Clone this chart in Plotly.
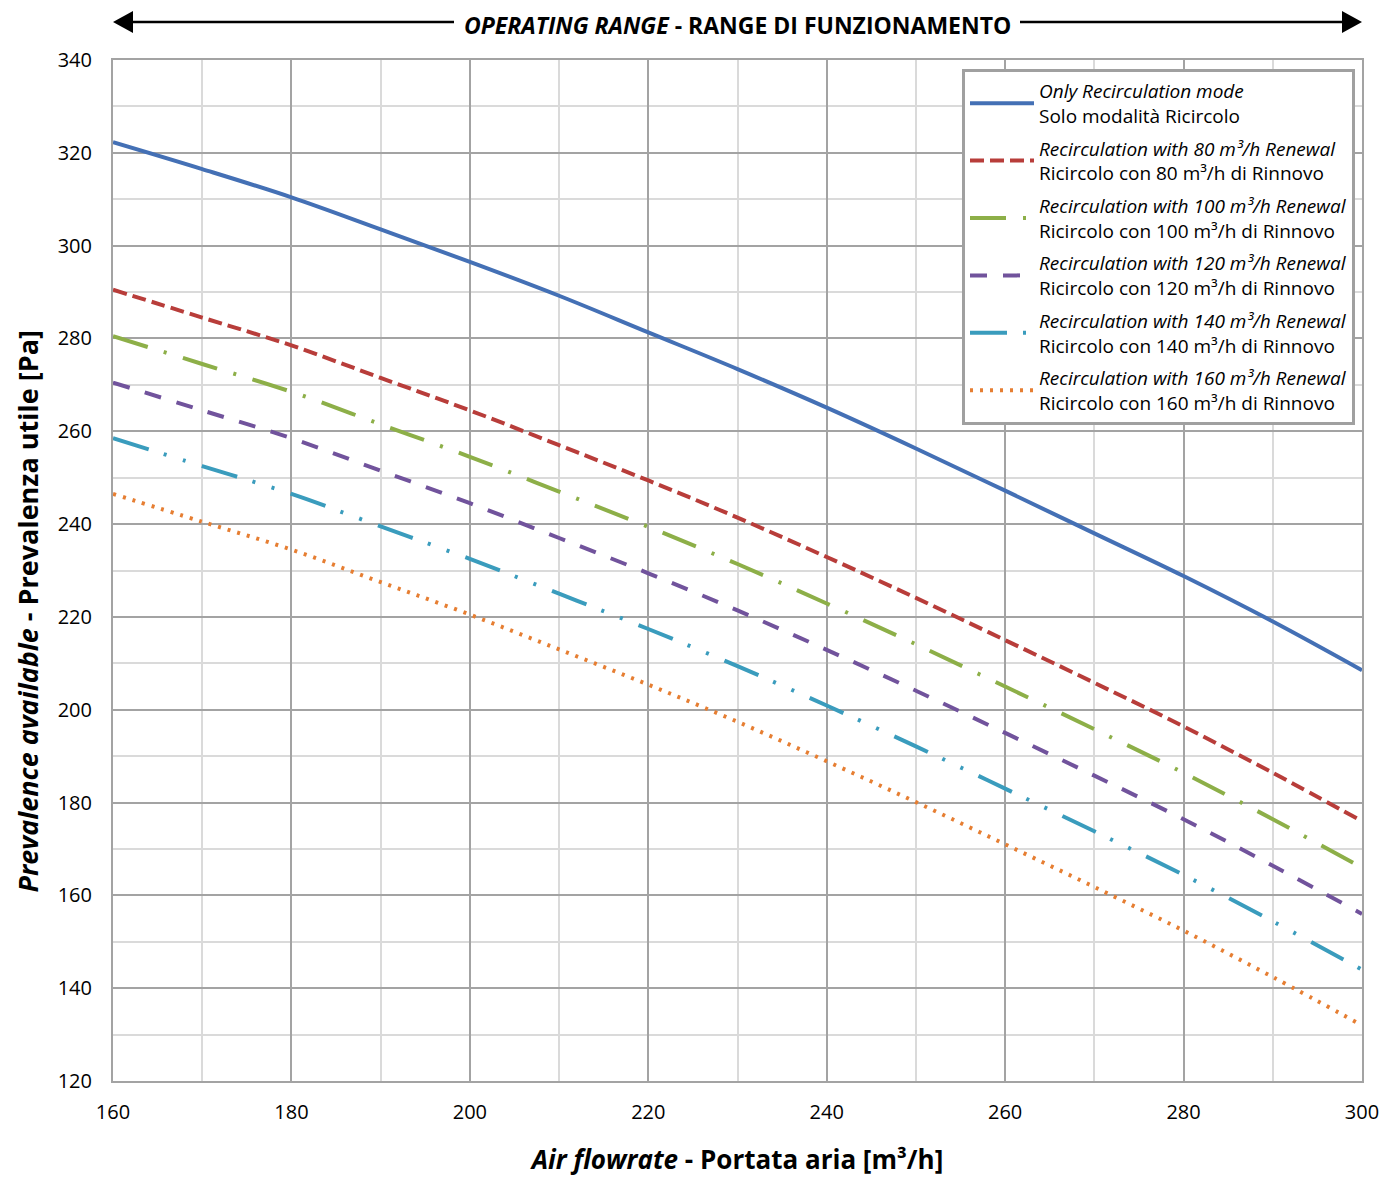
import plotly.graph_objects as go

airflow = [160, 170, 180, 190, 200, 210, 220, 230, 240, 250, 260, 270, 280, 290, 300]

only_recirc = [322.3, 316.5, 310.4, 303.5, 296.5, 289.2, 281.3, 273.4, 265.1, 256.3, 247.2, 238.0, 228.8, 219.0, 208.5]
renew_80 = [290.5, 284.5, 278.5, 271.5, 264.5, 257.0, 249.4, 241.4, 232.9, 224.1, 215.0, 205.8, 196.4, 186.4, 176.0]
renew_100 = [280.5, 274.5, 268.5, 261.5, 254.5, 247.0, 239.4, 231.4, 222.9, 214.1, 205.0, 195.8, 186.4, 176.4, 166.0]
renew_120 = [270.5, 264.5, 258.5, 251.5, 244.5, 237.0, 229.4, 221.4, 212.9, 204.1, 195.0, 185.8, 176.4, 166.4, 156.0]
renew_140 = [258.5, 252.5, 246.5, 239.5, 232.5, 225.0, 217.4, 209.4, 200.9, 192.1, 183.0, 173.8, 164.4, 154.4, 144.0]
renew_160 = [246.5, 240.5, 234.5, 227.5, 220.5, 213.0, 205.4, 197.4, 188.9, 180.1, 171.0, 161.8, 152.4, 142.4, 132.0]

series_names = [
    "<i>Only Recirculation mode</i><br>Solo modalità Ricircolo",
    "<i>Recirculation with 80 m³/h Renewal</i><br>Ricircolo con 80 m³/h di Rinnovo",
    "<i>Recirculation with 100 m³/h Renewal</i><br>Ricircolo con 100 m³/h di Rinnovo",
    "<i>Recirculation with 120 m³/h Renewal</i><br>Ricircolo con 120 m³/h di Rinnovo",
    "<i>Recirculation with 140 m³/h Renewal</i><br>Ricircolo con 140 m³/h di Rinnovo",
    "<i>Recirculation with 160 m³/h Renewal</i><br>Ricircolo con 160 m³/h di Rinnovo",
]
series_values = [only_recirc, renew_80, renew_100, renew_120, renew_140, renew_160]
colors = ["#4470B5", "#B83D3A", "#8DAF48", "#71539C", "#3A9CBD", "#E67E32"]
dashes = ["solid", "14px,6px", "36px,17px,3px,17px", "17px,16px",
          "37px,16px,3px,17px,3px,17px", "3px,7px"]

FONT = "Open Sans"

fig = go.Figure()
for i, (name, vals) in enumerate(zip(series_names, series_values)):
    fig.add_trace(go.Scatter(
        x=airflow, y=vals, mode="lines", name=name,
        line=dict(color=colors[i], width=4, dash=dashes[i], shape="spline", smoothing=1.0),
        legendgroup=f"g{i}",
    ))

major = "#a3a3a3"
minor = "#dadada"

# page body adds an 8px offset, margins compensate for it
fig.update_layout(
    width=1396, height=1178,
    margin=dict(l=105, r=42, t=52, b=105, autoexpand=False),
    paper_bgcolor="white", plot_bgcolor="white",
    font=dict(family=FONT, size=18, color="#000"),
    showlegend=True,
    legend=dict(
        x=(1355 - 113) / 1249, xanchor="right", y=(1081 - 69) / 1021, yanchor="top",
        bgcolor="white", bordercolor="#a0a0a0", borderwidth=3,
        font=dict(family=FONT, size=19, color="#000"),
        tracegroupgap=5, itemwidth=64,
    ),
    xaxis=dict(
        range=[160, 300], dtick=20, tick0=160,
        showgrid=True, gridcolor=major, gridwidth=2,
        minor=dict(dtick=10, showgrid=True, gridcolor=minor, gridwidth=2),
        showline=True, linecolor=major, linewidth=2, mirror=True,
        zeroline=False, ticks="", ticklabelstandoff=12,
        tickfont=dict(family=FONT, size=20),
        title=dict(text="<b><i>Air flowrate</i> - Portata aria [m³/h]</b>",
                   font=dict(family=FONT, size=26), standoff=27),
    ),
    yaxis=dict(
        range=[120, 340], dtick=20, tick0=120,
        showgrid=True, gridcolor=major, gridwidth=2,
        minor=dict(dtick=10, showgrid=True, gridcolor=minor, gridwidth=2),
        showline=True, linecolor=major, linewidth=2, mirror=True,
        zeroline=False, ticks="", ticklabelstandoff=15,
        tickfont=dict(family=FONT, size=20),
    ),
)

# Y-axis title (placed slightly below plot centre, as in the original)
fig.add_annotation(
    xref="paper", yref="paper", x=(27 - 113) / 1249, y=(1081 - 611.5) / 1021,
    text="<b><i>Prevalence available</i> - Prevalenza utile [Pa]</b>",
    textangle=-90, showarrow=False, xanchor="center", yanchor="middle",
    font=dict(family=FONT, size=27, color="black"),
)

# Top "operating range" double arrow, split around the label
arrow_y = (1081 - 22) / 1021
text_left = (454 - 113) / 1249
text_right = (1020 - 113) / 1249
for xa, xb in [(0.012, text_left), (text_right, 0.988)]:
    fig.add_shape(type="line", xref="paper", yref="paper",
                  x0=xa, x1=xb, y0=arrow_y, y1=arrow_y,
                  line=dict(color="black", width=2.5))
tw = 20 / 1249
th = 11 / 1021
fig.add_shape(type="path", xref="paper", yref="paper",
              path=f"M 0,{arrow_y} L {tw},{arrow_y + th} L {tw},{arrow_y - th} Z",
              fillcolor="black", line=dict(color="black", width=0))
fig.add_shape(type="path", xref="paper", yref="paper",
              path=f"M 1,{arrow_y} L {1 - tw},{arrow_y + th} L {1 - tw},{arrow_y - th} Z",
              fillcolor="black", line=dict(color="black", width=0))
fig.add_annotation(
    xref="paper", yref="paper", x=(737 - 113) / 1249, y=(1081 - 25) / 1021,
    text="<b><i>OPERATING RANGE</i> - RANGE DI FUNZIONAMENTO</b>",
    showarrow=False, borderpad=0,
    font=dict(family=FONT, size=23, color="black"),
    xanchor="center", yanchor="middle",
)

fig.write_html("out.html")
